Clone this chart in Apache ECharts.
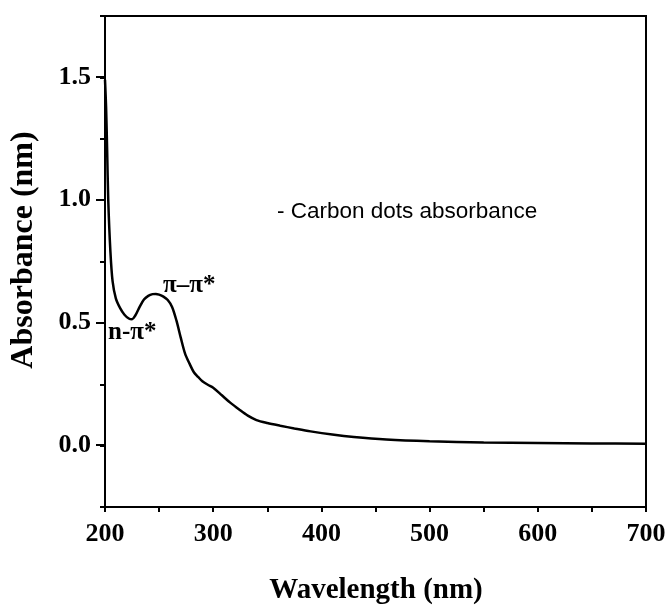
<!DOCTYPE html>
<html><head><meta charset="utf-8">
<script src="https://cdn.jsdelivr.net/npm/echarts@6/dist/echarts.min.js"></script>
<style>html,body{margin:0;padding:0;background:#fff}#c{width:666px;height:607px}</style>
</head><body><div id="c"></div>
<script>
const wavelength = [200, 201, 202, 203, 205, 207, 210, 214, 218, 222, 225, 228, 232, 236, 240, 244, 247, 250, 254, 258, 262, 266, 270, 274, 278, 282, 286, 290, 295, 300, 308, 316, 324, 332, 340, 350, 362, 375, 390, 410, 430, 460, 500, 550, 600, 650, 700];
const absorbance = [1.49, 1.38, 1.20, 1.00, 0.79, 0.67, 0.60, 0.56, 0.533, 0.518, 0.515, 0.53, 0.565, 0.595, 0.61, 0.617, 0.618, 0.615, 0.607, 0.593, 0.565, 0.51, 0.44, 0.375, 0.335, 0.30, 0.28, 0.262, 0.248, 0.236, 0.205, 0.174, 0.147, 0.122, 0.104, 0.092, 0.081, 0.07, 0.058, 0.045, 0.035, 0.025, 0.018, 0.013, 0.011, 0.009, 0.008];
const xTitle = 'Wavelength (nm)';
const yTitle = 'Absorbance (nm)';
const legendText = '- Carbon dots absorbance';
const annPiPi = 'π–π*';
const annNPi = 'n-π*';

const serif = '"Liberation Serif", "DejaVu Serif", serif';
const chart = echarts.init(document.getElementById('c'));
chart.setOption({
  animation: false,
  backgroundColor: '#fff',
  grid: [
    {left: 105, right: 20, top: 16, bottom: 100, show: true, borderColor: '#000', borderWidth: 2, containLabel: false, outerBoundsMode: 'none'},
    {left: 105, right: 20, top: 77, bottom: 162, containLabel: false, outerBoundsMode: 'none'}
  ],
  xAxis: [
    {gridIndex: 0, type: 'value', min: 200, max: 700, interval: 50,
     axisLine: {show: true, onZero: false, lineStyle: {color: '#000', width: 2}},
     axisTick: {show: true, inside: false, length: 5, lineStyle: {color: '#000', width: 2}},
     splitLine: {show: false},
     axisLabel: {margin: 14, color: '#000', fontFamily: serif, fontWeight: 'bold', fontSize: 26,
       formatter: v => (v % 100 === 0 ? String(v) : '')}},
    {gridIndex: 1, type: 'value', min: 200, max: 700, show: false}
  ],
  yAxis: [
    {gridIndex: 0, type: 'value', min: -0.25, max: 1.75, interval: 0.25,
     axisLine: {show: true, onZero: false, lineStyle: {color: '#000', width: 2}},
     axisTick: {show: true, inside: false, length: 5, lineStyle: {color: '#000', width: 2}},
     splitLine: {show: false},
     axisLabel: {show: false}},
    {gridIndex: 1, type: 'value', min: 0, max: 1.5, interval: 0.5,
     axisLine: {show: false, onZero: false},
     axisTick: {show: true, inside: false, length: 9, lineStyle: {color: '#000', width: 2}},
     splitLine: {show: false},
     axisLabel: {margin: 14, color: '#000', fontFamily: serif, fontWeight: 'bold', fontSize: 26,
       formatter: v => v.toFixed(1)}}
  ],
  series: [{
    type: 'line', xAxisIndex: 0, yAxisIndex: 0,
    data: wavelength.map((w, i) => [w, absorbance[i]]),
    showSymbol: false, smooth: 0.3,
    lineStyle: {color: '#000', width: 2.5}
  }],
  graphic: [
    {type: 'text', x: 376, y: 591,
     style: {text: xTitle, font: 'bold 29px ' + serif, fill: '#000', align: 'center', verticalAlign: 'middle'}},
    {type: 'text', x: 24, y: 250, rotation: Math.PI / 2, originX: 0, originY: 0,
     style: {text: yTitle, font: 'bold 32px ' + serif, fill: '#000', align: 'center', verticalAlign: 'middle'}},
    {type: 'text', x: 277, y: 212,
     style: {text: legendText, font: '22.5px "Liberation Sans", Arial, sans-serif', fill: '#000', verticalAlign: 'middle'}},
    {type: 'text', x: 163, y: 286,
     style: {text: annPiPi, font: 'bold 25px ' + serif, fill: '#000', verticalAlign: 'middle'}},
    {type: 'text', x: 108, y: 333,
     style: {text: annNPi, font: 'bold 25px ' + serif, fill: '#000', verticalAlign: 'middle'}}
  ]
});
</script>
</body></html>
